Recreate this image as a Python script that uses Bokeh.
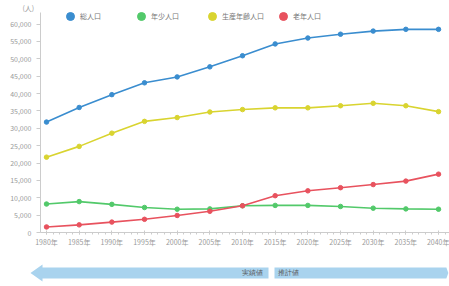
from bokeh.plotting import figure
from bokeh.models import (ColumnDataSource, Range1d, FixedTicker, NumeralTickFormatter,
                          Legend, LegendItem, Title)
from bokeh.layouts import column
from bokeh.embed import file_html
from bokeh.resources import INLINE

years = [1980, 1985, 1990, 1995, 2000, 2005, 2010, 2015, 2020, 2025, 2030, 2035, 2040]
total = [31800, 36000, 39700, 43100, 44800, 47700, 50900, 54300, 56000, 57100, 58000, 58500, 58500]
working = [21700, 24800, 28600, 32000, 33100, 34700, 35400, 35900, 35900, 36500, 37200, 36500, 34800]
young = [8200, 8900, 8100, 7200, 6700, 6800, 7700, 7800, 7800, 7500, 7000, 6800, 6700]
elderly = [1600, 2200, 3000, 3800, 4900, 6100, 7700, 10600, 12000, 12900, 13800, 14800, 16800]
series_names = ["総人口", "年少人口", "生産年齢人口", "老年人口"]
series_values = [total, young, working, elderly]
y_ticks = list(range(0, 60001, 5000))
unit_label = "(人)"

phase_labels = ["実績値", "推計値"]
phase_start = [1977.55, 2014.9]
phase_end = [2013.98, 2041.5]

colors = ["#3a8dcf", "#52c96a", "#d9d430", "#e8525e"]
FONT = "Noto Sans CJK JP"
GREY = "#9a9a9a"

p = figure(width=449, height=254, output_backend="svg", toolbar_location=None,
           x_range=Range1d(1979.08, 2041.68), y_range=Range1d(0, 63350),
           min_border_left=40, min_border_right=0, min_border_top=0, min_border_bottom=22)
p.frame_align = False
p.outline_line_color = None
p.xgrid.visible = False
p.ygrid.visible = False
p.title = Title(text=unit_label, align="left", offset=-18, standoff=0,
                text_font=FONT, text_font_size="7px", text_color=GREY,
                text_font_style="normal", text_line_height=1.0)

legend_items = []
for name, vals, c in zip(series_names, series_values, colors):
    src = ColumnDataSource(dict(x=years, y=vals))
    p.line("x", "y", source=src, line_color=c, line_width=1.6)
    r = p.scatter("x", "y", source=src, size=4.5, fill_color=c, line_color=c)
    legend_items.append(LegendItem(label=name, renderers=[r]))

legend = Legend(items=legend_items, orientation="horizontal", location=(20, 206),
                glyph_width=20, glyph_height=20, label_height=18, label_standoff=-4,
                label_width=45, spacing=6, padding=0, margin=0,
                border_line_alpha=0, background_fill_alpha=0,
                label_text_font=FONT, label_text_font_size="7px", label_text_color="#777777")
p.add_layout(legend, "center")

p.xaxis.ticker = FixedTicker(ticks=years, minor_ticks=list(range(1979, 2042)))
p.xaxis.major_label_overrides = {y: f"{y}年" for y in years}
p.xaxis.axis_line_color = "#cccccc"
p.xaxis.major_tick_line_color = "#cccccc"
p.xaxis.minor_tick_line_color = "#cccccc"
p.xaxis.major_tick_in = 2
p.xaxis.major_tick_out = 2
p.xaxis.minor_tick_in = 0
p.xaxis.minor_tick_out = 2
p.xaxis.major_label_standoff = 2
p.xaxis.major_label_text_font = FONT
p.xaxis.major_label_text_font_size = "7px"
p.xaxis.major_label_text_color = GREY

p.yaxis.ticker = FixedTicker(ticks=y_ticks)
p.yaxis.formatter = NumeralTickFormatter(format="0,0")
p.yaxis.axis_line_color = "#cccccc"
p.yaxis.major_tick_line_color = "#cccccc"
p.yaxis.minor_tick_line_color = None
p.yaxis.major_tick_in = 0
p.yaxis.major_tick_out = 4
p.yaxis.major_label_standoff = 5
p.yaxis.major_label_text_font = FONT
p.yaxis.major_label_text_font_size = "7px"
p.yaxis.major_label_text_color = GREY

# phase arrows
q = figure(width=449, height=32, output_backend="svg", toolbar_location=None,
           x_range=Range1d(1972.96, 2041.68), y_range=Range1d(0, 32),
           x_axis_location=None, y_axis_location=None,
           min_border=0, min_border_left=0, min_border_right=0, min_border_top=0, min_border_bottom=0)
q.frame_align = False
q.grid.visible = False
q.outline_line_color = None

head = 1.84
band_lo, band_hi, head_lo, head_hi, mid = 8, 19, 5, 22, 13.5
xs, ys = [], []
s0, e0 = phase_start[0], phase_end[0]
xs.append([s0, s0 + head, s0 + head, e0, e0, s0 + head, s0 + head])
ys.append([mid, head_hi, band_hi, band_hi, band_lo, band_lo, head_lo])
s1, e1 = phase_start[1], phase_end[1]
xs.append([s1, e1 - 0.3, e1, e1 - 0.3, s1])
ys.append([band_hi, band_hi, mid, band_lo, band_lo])
q.patches(xs, ys, fill_color="#a9d3ee", line_color=None)
q.text(x=[e0 - 0.9, s1 + 0.6], y=[mid, mid], text=phase_labels,
       text_align=["right", "left"], text_baseline="middle",
       text_font_size="7px", text_color="#555555", text_font=FONT)

layout = column(p, q, spacing=0)
open("out.html", "w").write(file_html(layout, INLINE))
